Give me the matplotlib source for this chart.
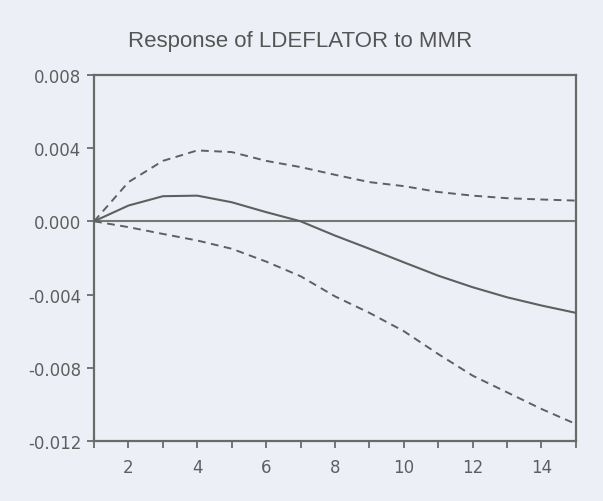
import matplotlib
matplotlib.use("Agg")
import matplotlib.pyplot as plt
from matplotlib.ticker import MultipleLocator, FixedLocator, FuncFormatter

periods = list(range(1, 16))
response = [0.0, 0.00086, 0.00137, 0.0014, 0.00104, 0.0005, 0.0, -0.00078,
            -0.0015, -0.00224, -0.00297, -0.0036, -0.00415, -0.0046, -0.0050]
upper = [0.0, 0.00214, 0.0033, 0.00387, 0.00378, 0.0033, 0.00296, 0.00254,
         0.00214, 0.00192, 0.0016, 0.0014, 0.00126, 0.00119, 0.00113]
lower = [0.0, -0.00032, -0.00069, -0.00105, -0.0015, -0.0022, -0.003, -0.0041,
         -0.005, -0.006, -0.00725, -0.00843, -0.00934, -0.01025, -0.01107]
title = "Response of LDEFLATOR to MMR"
yticks = [-0.012, -0.008, -0.004, 0.000, 0.004, 0.008]
xlabels = [2, 4, 6, 8, 10, 12, 14]

bg = "#ECF0F6"
lc = "#5f5f5f"
tc = "#5e5e5e"

plt.rcParams['font.family'] = ['Liberation Sans', 'DejaVu Sans']

fig = plt.figure(figsize=(6.03, 5.02), dpi=100, facecolor=bg)
ax = fig.add_axes([0.156, 0.1195, 0.799, 0.7295], facecolor=bg)

ax.axhline(0, color="#777777", lw=1.5, zorder=1)
ax.plot(periods, response, color=lc, lw=1.5, zorder=3)
ax.plot(periods, upper, color=lc, lw=1.4, ls=(0, (4, 2.8)), zorder=3)
ax.plot(periods, lower, color=lc, lw=1.4, ls=(0, (4, 2.8)), zorder=3)

ax.set_xlim(1, 15)
ax.set_ylim(-0.012, 0.008)
ax.xaxis.set_major_locator(MultipleLocator(1))
ax.xaxis.set_major_formatter(FuncFormatter(lambda v, p: str(int(round(v))) if int(round(v)) in xlabels else ""))
ax.yaxis.set_major_locator(FixedLocator(yticks))
ax.yaxis.set_major_formatter(FuncFormatter(lambda v, p: ("-" if v < 0 else "") + f"{abs(v):.3f}"))

for s in ax.spines.values():
    s.set_color("#6a6a6a")
    s.set_linewidth(1.6)

ax.tick_params(axis="both", direction="out", length=5, width=1.3, color="#6a6a6a",
               labelcolor=tc, labelsize=12)
ax.tick_params(axis="y", pad=4)
ax.tick_params(axis="x", pad=7)
for lab in ax.get_xticklabels() + ax.get_yticklabels():
    lab.set_fontfamily(['DejaVu Sans'])

fig.text(0.497, 0.918, title, ha="center", va="center", fontsize=16, color="#555555")

fig.savefig("out.png", dpi=100, facecolor=bg)
